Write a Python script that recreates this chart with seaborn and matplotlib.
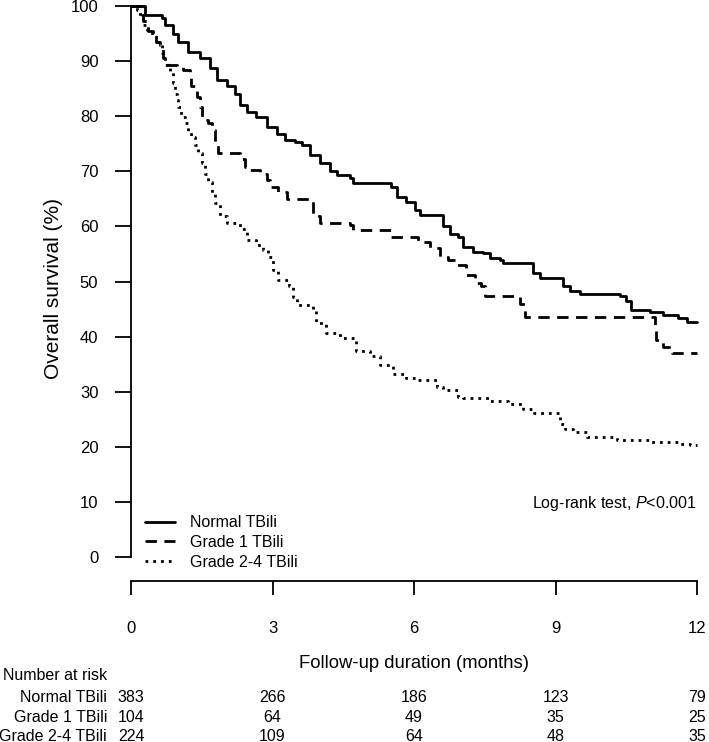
import matplotlib
matplotlib.use("Agg")
import matplotlib.pyplot as plt
import matplotlib.transforms as mtransforms
import seaborn as sns

# Kaplan-Meier step points (month, survival %)
normal_t = [0, 0.3, 0.65, 0.72, 0.9, 1.0, 1.21, 1.46, 1.67, 1.82, 2.03, 2.2, 2.31, 2.45, 2.66, 2.88,
            3.09, 3.26, 3.48, 3.62, 3.79, 4.0, 4.22, 4.36, 4.64, 4.71, 5.14, 5.52, 5.63, 5.84, 6.02,
            6.13, 6.62, 6.76, 6.94, 7.04, 7.26, 7.47, 7.61, 7.82, 7.89, 8.53, 8.67, 9.16, 9.31, 9.52,
            10.36, 10.5, 10.61, 11.0, 11.28, 11.6, 11.78, 12]
normal_s = [100, 98.4, 97.8, 96.6, 95, 93.5, 91.7, 90.5, 88.7, 86.6, 85.4, 84.1, 82, 80.8, 79.9, 78.1,
            76.8, 75.7, 75.4, 74.8, 73, 71.5, 70, 69.3, 68.7, 67.9, 67.8, 67.2, 65.4, 64.5, 62.9,
            62.1, 60, 58.7, 58.1, 56.3, 55.4, 55.1, 54.2, 53.9, 53.3, 51.5, 50.6, 49.1, 48.2, 47.7,
            47.3, 46.4, 44.8, 44.5, 43.9, 43.3, 42.7, 42.7]

grade1_t = [0, 0.23, 0.26, 0.37, 0.47, 0.54, 0.61, 0.68, 0.79, 0.97, 1.11, 1.25, 1.28, 1.39, 1.46,
            1.5, 1.64, 1.71, 1.78, 1.85, 2.31, 2.42, 2.52, 2.73, 2.88, 2.95, 3.12, 3.3, 3.86, 4.0,
            4.64, 4.71, 5.52, 6.09, 6.34, 6.55, 6.73, 6.9, 7.11, 7.29, 7.43, 7.5, 8.24, 8.35, 11.11,
            11.14, 11.28, 11.46, 12]
grade1_s = [100, 98.4, 97.2, 95.4, 94.7, 93.5, 92.9, 90.5, 89.3, 89, 88.4, 88.1, 85.4, 83.5, 81.7,
            79.3, 78.7, 77.5, 75.4, 73.3, 72.3, 70.8, 70.2, 69.6, 68.4, 67.2, 66.3, 64.9, 61.8, 60.6,
            60.3, 59.3, 58.1, 57.2, 56, 54.5, 53.9, 53, 51.2, 49.7, 49.1, 47.4, 46, 43.6, 42.1,
            39.4, 38.2, 37, 37]

grade24_t = [0, 0.12, 0.19, 0.26, 0.33, 0.44, 0.54, 0.65, 0.72, 0.82, 0.9, 0.93, 0.97, 1.0, 1.07,
             1.14, 1.21, 1.28, 1.36, 1.42, 1.5, 1.57, 1.64, 1.71, 1.78, 1.89, 2.03, 2.31, 2.45, 2.66,
             2.8, 2.91, 3.02, 3.12, 3.34, 3.44, 3.51, 3.86, 3.93, 4.14, 4.43, 4.78, 5.07, 5.28, 5.56,
             5.84, 6.06, 6.48, 6.62, 6.94, 7.04, 7.6, 8.0, 8.3, 8.55, 9.1, 9.2, 9.38, 9.66, 10.3,
             11.0, 11.64, 11.85, 12]
grade24_s = [100, 99.3, 98, 96.6, 95.6, 94.7, 93.5, 91.4, 89.3, 88.1, 86, 84.1, 82.9, 81.7, 79.9,
             78.7, 77.2, 76.3, 74.8, 73.3, 71.5, 69.6, 68.1, 66, 64.2, 61.8, 60.6, 59.6, 57.5, 56.6,
             55.7, 54.5, 52.1, 50.3, 49.1, 47.2, 45.7, 45.1, 42.4, 40.6, 39.7, 37.3, 36.4, 34.8, 33.3,
             32.4, 32.1, 30.9, 30.3, 29.1, 28.8, 28.4, 27.8, 26.8, 26.1, 24.2, 23.3, 22.7, 21.8, 21.2,
             20.9, 20.6, 20.3, 20.3]

group_names = ["Normal TBili", "Grade 1 TBili", "Grade 2-4 TBili"]
risk_times = [0, 3, 6, 9, 12]
risk_normal = [383, 266, 186, 123, 79]
risk_grade1 = [104, 64, 49, 35, 25]
risk_grade24 = [224, 109, 64, 48, 35]

sns.set_theme(style="ticks")
plt.rcParams["font.family"] = ["Liberation Sans", "DejaVu Sans"]
plt.rcParams["mathtext.fontset"] = "custom"
plt.rcParams["mathtext.rm"] = "Liberation Sans"
plt.rcParams["mathtext.it"] = "Liberation Sans:italic"
for key in ["text.color", "axes.labelcolor", "xtick.color", "ytick.color", "axes.edgecolor"]:
    plt.rcParams[key] = "black"

fig = plt.figure(figsize=(7.09, 7.42), dpi=100)
ax = fig.add_axes([0.1848, 0.2493, 0.7983, 0.7426])

curves = [(normal_t, normal_s), (grade1_t, grade1_s), (grade24_t, grade24_s)]
dash_styles = [None, (4.1, 2.7), (1.0, 1.8)]
for (t, s), name, dash in zip(curves, group_names, dash_styles):
    sns.lineplot(x=t, y=s, ax=ax, color="black", linewidth=2.0, label=name,
                 drawstyle="steps-post", estimator=None, clip_on=False)
    line = ax.lines[-1]
    if dash is not None:
        line.set_dashes(dash)

ax.set_xlim(0, 12)
ax.set_ylim(0, 100)
ax.set_xticks(risk_times)
ax.set_yticks(range(0, 101, 10))
sns.despine(ax=ax)
ax.spines["left"].set_linewidth(1.3)
ax.spines["bottom"].set_linewidth(1.3)
ax.spines["bottom"].set_position(("outward", 17))
ax.tick_params(axis="y", length=11.5, width=1.3, pad=12, labelsize=12)
ax.tick_params(axis="x", length=10, width=1.3, pad=19, labelsize=12)

ax.set_xlabel("Follow-up duration (months)", fontsize=13.3)
ax.xaxis.set_label_coords(0.5, -0.177)
ax.set_ylabel("Overall survival (%)", fontsize=15)
ax.yaxis.set_label_coords(-0.12, 0.487)

ax.legend(loc="upper left", bbox_to_anchor=(0.0247, 0.076), frameon=False, fontsize=11.5,
          handlelength=1.88, handletextpad=0.94, labelspacing=0.3, borderpad=0, borderaxespad=0)

ax.text(12, 9.8, r"Log-rank test, $\mathit{P}$<0.001", ha="right", va="center", fontsize=11.6)

# number at risk table
blend = mtransforms.blended_transform_factory(ax.transData, ax.transAxes)
ax.text(-0.226, -0.2142, "Number at risk", transform=ax.transAxes, ha="left", va="center",
        fontsize=11.5, clip_on=False)
row_y = [-0.2541, -0.2904, -0.3249]
for name, counts, y in zip(group_names, [risk_normal, risk_grade1, risk_grade24], row_y):
    ax.text(-0.0424, y, name, transform=ax.transAxes, ha="right", va="center", fontsize=11.5)
    for t, n in zip(risk_times, counts):
        ax.text(t, y, str(n), transform=blend, ha="center", va="center", fontsize=11.5)

fig.savefig("out.png", dpi=100)
